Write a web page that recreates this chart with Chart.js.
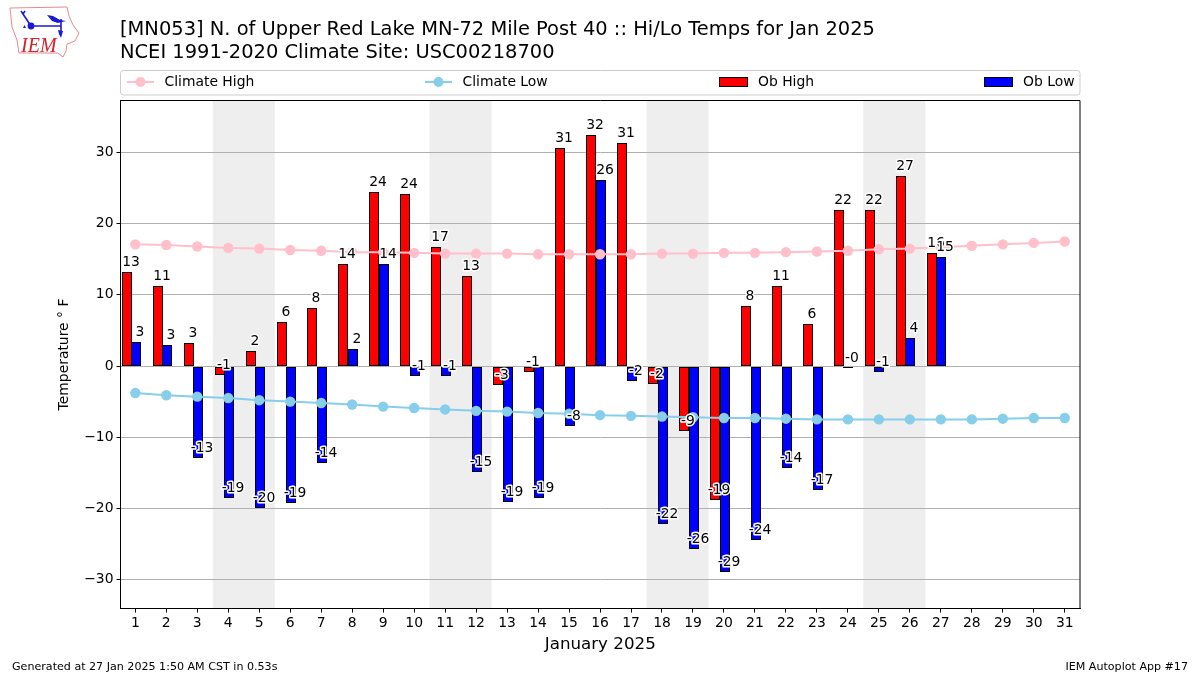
<!DOCTYPE html>
<html>
<head>
<meta charset="utf-8">
<title>Hi/Lo Temps</title>
<script src="https://cdn.jsdelivr.net/npm/chart.js@4"></script>
<style>
  html, body { margin: 0; padding: 0; background: #fff; }
  #wrap { position: relative; width: 1200px; height: 675px; overflow: hidden; font-family: "DejaVu Sans", sans-serif; color: #000; }
  #wrap canvas { position: absolute; left: 0; top: 0; }
  .txt { position: absolute; white-space: nowrap; }
  #title { left: 120px; top: 18px; font-size: 19.45px; line-height: 22.7px; }
  #foot1 { left: 12px; top: 660px; font-size: 11.1px; }
  #foot2 { right: 12px; top: 660px; font-size: 11.1px; }
  #logo { position: absolute; left: 0; top: 0; }
</style>
</head>
<body>
<div id="wrap">
  <canvas id="myChart" width="1200" height="675"></canvas>
  <svg id="logo" width="90" height="62" viewBox="0 0 90 62">
    <path d="M10 8 L67 7 L69 16 L73 25 L79 33 L75 41 L67 44 L66 51 L63 57 L58 53 L19 53 L17 40 L12 27 Z" fill="none" stroke="#e58a8f" stroke-width="1"/>
    <path d="M31 26 H61 M31 26 L23 14 M23 14 L21 11 M23 14 L25 11 M61 19 V34" stroke="#1a1ad0" stroke-width="1.6" fill="none"/>
    <circle cx="31" cy="26" r="3.4" fill="#1a1ad0"/>
    <path d="M47 15 L53 16 L60 20 L66 21 L58 23 L52 21 Z M23 28 L26 28 L24.5 25 Z M58 30 L63 31 L61 38 L59 34 Z" fill="#1a1ad0"/>
    <text x="21" y="52" font-family="Liberation Serif" font-style="italic" font-size="20" fill="#d8202a">IEM</text>
  </svg>
  <div id="title" class="txt">[MN053] N. of Upper Red Lake MN-72 Mile Post 40 :: Hi/Lo Temps for Jan 2025<br>NCEI 1991-2020 Climate Site: USC00218700</div>
  <div id="foot1" class="txt">Generated at 27 Jan 2025 1:50 AM CST in 0.53s</div>
  <div id="foot2" class="txt">IEM Autoplot App #17</div>
</div>
<script>
  // valores
  var days = [1,2,3,4,5,6,7,8,9,10,11,12,13,14,15,16,17,18,19,20,21,22,23,24,25,26,27,28,29,30,31];
  var obHigh = [13.2,11.2,3.2,-1.3,2.1,6.2,8.1,14.4,24.4,24.2,16.7,12.6,-2.6,-0.9,30.6,32.4,31.3,-2.49,-9.1,-18.8,8.4,11.2,5.9,21.9,21.9,26.7,15.9];
  var obLow = [3.4,2.9,-12.9,-18.6,-20.0,-19.3,-13.6,2.4,14.4,-1.4,-1.4,-14.9,-19.1,-18.6,-8.4,26.1,-2.1,-22.2,-25.7,-28.9,-24.4,-14.3,-17.4,-0.3,-0.8,3.9,15.3];
  var climateHigh = [17.1,17.0,16.8,16.6,16.5,16.3,16.2,16.0,16.0,15.9,15.8,15.8,15.8,15.7,15.7,15.7,15.7,15.8,15.8,15.9,15.9,16.0,16.1,16.2,16.4,16.5,16.7,16.9,17.1,17.3,17.5];
  var climateLow = [-3.8,-4.1,-4.3,-4.5,-4.8,-5.0,-5.2,-5.4,-5.7,-5.9,-6.1,-6.3,-6.4,-6.6,-6.7,-6.9,-7.0,-7.1,-7.2,-7.3,-7.3,-7.4,-7.5,-7.5,-7.5,-7.5,-7.5,-7.5,-7.4,-7.3,-7.3];
  var yTicks = [-30,-20,-10,0,10,20,30];
  var weekends = [[3.5,5.5],[10.5,12.5],[17.5,19.5],[24.5,26.5]];

  var fontName = '"DejaVu Sans"';
  var highShift = 0.2808;
  var lowShift = -0.0197;
  var barPx = 10;

  function points(values, shift) {
    return values.map(function (v, i) { return { x: days[i] - shift, y: v }; });
  }

  // faixas cinza dos fins de semana
  var shadePlugin = {
    id: 'shade',
    beforeDraw: function (chart) {
      var c = chart.ctx, a = chart.chartArea, x = chart.scales.x;
      c.save();
      c.fillStyle = '#eeeeee';
      weekends.forEach(function (w) {
        var x0 = x.getPixelForValue(w[0]), x1 = x.getPixelForValue(w[1]);
        c.fillRect(x0, a.top, x1 - x0, a.bottom - a.top);
      });
      c.restore();
    }
  };

  // alinha as barras ao pixel para a borda ficar nitida
  var snapPlugin = {
    id: 'snapBars',
    beforeDatasetsDraw: function (chart) {
      [0, 1].forEach(function (idx) {
        chart.getDatasetMeta(idx).data.forEach(function (bar) {
          bar.x = Math.round(bar.x - bar.width / 2) + bar.width / 2;
          bar.y = Math.round(bar.y);
          bar.base = Math.round(bar.base);
        });
      });
    }
  };

  // rotulos das barras, moldura e legenda
  var labelPlugin = {
    id: 'barLabels',
    afterDatasetsDraw: function (chart) {
      var c = chart.ctx, a = chart.chartArea;
      c.save();
      c.font = '13.9px ' + fontName;
      c.textAlign = 'center';
      c.textBaseline = 'alphabetic';
      c.lineJoin = 'round';
      [0, 1].forEach(function (idx) {
        var meta = chart.getDatasetMeta(idx);
        var vals = chart.data.datasets[idx].data;
        meta.data.forEach(function (bar, i) {
          var t = vals[i].y.toFixed(0);
          var tx = bar.x + 4, ty = bar.y - 6;
          c.lineWidth = 3;
          c.strokeStyle = '#fff';
          c.strokeText(t, tx, ty);
          c.fillStyle = '#000';
          c.fillText(t, tx, ty);
        });
      });
      c.strokeStyle = '#000';
      c.lineWidth = 1;
      c.strokeRect(a.left, a.top, a.right - a.left, a.bottom - a.top);
      c.restore();
    },
    afterDraw: function (chart) {
      var c = chart.ctx;
      var items = [
        { i: 2, x: 127 },
        { i: 3, x: 425 },
        { i: 0, x: 719 },
        { i: 1, x: 984 }
      ];
      c.save();
      c.strokeStyle = '#cccccc';
      c.lineWidth = 1;
      c.beginPath();
      c.roundRect(120.5, 70.5, 959.5, 24.5, 3);
      c.stroke();
      c.font = '13.9px ' + fontName;
      c.textBaseline = 'middle';
      c.textAlign = 'left';
      items.forEach(function (it) {
        var ds = chart.data.datasets[it.i];
        var y = 82;
        if (ds.type === 'line') {
          c.strokeStyle = ds.borderColor;
          c.lineWidth = 2;
          c.beginPath(); c.moveTo(it.x, y); c.lineTo(it.x + 27, y); c.stroke();
          c.fillStyle = ds.borderColor;
          c.beginPath(); c.arc(it.x + 13.5, y, 5, 0, Math.PI * 2); c.fill();
        } else {
          c.fillStyle = ds.backgroundColor;
          c.fillRect(it.x + 0.5, y - 4.5, 28, 9);
          c.strokeStyle = '#000';
          c.lineWidth = 1;
          c.strokeRect(it.x + 0.5, y - 4.5, 28, 9);
        }
        c.fillStyle = '#000';
        c.fillText(ds.label, it.x + (ds.type === 'line' ? 37.5 : 39), y);
      });
      c.restore();
    }
  };

  var ctx = document.getElementById('myChart').getContext('2d');
  var myChart = new Chart(ctx, {
    type: 'bar',
    plugins: [shadePlugin, snapPlugin, labelPlugin],
    data: {
      datasets: [
        { label: 'Ob High', data: points(obHigh, highShift), backgroundColor: '#ff0000', borderColor: '#000', borderWidth: 1, borderSkipped: false, inflateAmount: 0, grouped: false, barThickness: barPx, order: 3 },
        { label: 'Ob Low', data: points(obLow, lowShift), backgroundColor: '#0000ff', borderColor: '#000', borderWidth: 1, borderSkipped: false, inflateAmount: 0, grouped: false, barThickness: barPx, order: 2 },
        { type: 'line', label: 'Climate High', data: points(climateHigh, 0), borderColor: '#ffc0cb', backgroundColor: '#ffc0cb', borderWidth: 2, pointRadius: 5.2, pointBorderWidth: 0, tension: 0, order: 1 },
        { type: 'line', label: 'Climate Low', data: points(climateLow, 0), borderColor: '#87ceeb', backgroundColor: '#87ceeb', borderWidth: 2, pointRadius: 5.2, pointBorderWidth: 0, tension: 0, order: 0 }
      ]
    },
    options: {
      responsive: false,
      animation: false,
      events: [],
      layout: { padding: { left: 0, right: 120, top: 100.5, bottom: 0 } },
      plugins: { legend: { display: false }, title: { display: false }, tooltip: { enabled: false } },
      scales: {
        x: {
          type: 'linear',
          offset: false,
          min: 0.522,
          max: 31.492,
          afterBuildTicks: function (s) { s.ticks = days.map(function (d) { return { value: d }; }); },
          afterFit: function (s) { s.height = 66.5; },
          ticks: { autoSkip: false, maxRotation: 0, color: '#000', font: { family: fontName, size: 13.9 }, padding: 3, callback: function (v) { return String(v); } },
          grid: { offset: false, drawOnChartArea: false, drawTicks: true, tickLength: 4, tickColor: '#000' },
          border: { color: '#000' },
          title: { display: true, text: 'January 2025', color: '#000', font: { family: fontName, size: 16.7 }, padding: { top: 4, bottom: 20 } }
        },
        y: {
          min: -34.07,
          max: 37.31,
          afterBuildTicks: function (s) { s.ticks = yTicks.map(function (v) { return { value: v }; }); },
          afterFit: function (s) { s.width = 120.5; },
          ticks: { color: '#000', font: { family: fontName, size: 13.9 }, padding: 3, callback: function (v) { return String(v).replace('-', '\u2212'); } },
          grid: { color: '#b0b0b0', lineWidth: 1, drawTicks: true, tickLength: 4, tickColor: '#000' },
          border: { color: '#000' },
          title: { display: true, text: 'Temperature \u00B0 F', color: '#000', font: { family: fontName, size: 13.9 }, padding: { top: 56.5, bottom: 4 } }
        }
      }
    }
  });
</script>
</body>
</html>
